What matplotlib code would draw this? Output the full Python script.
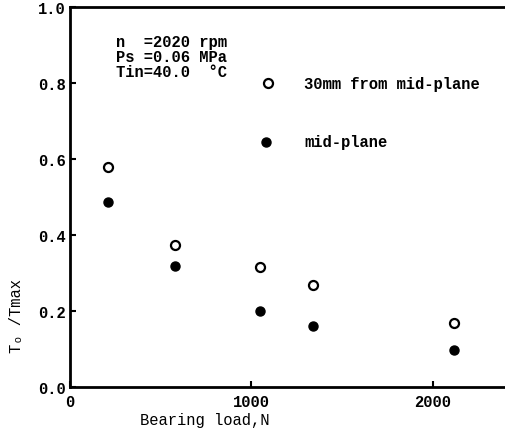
import matplotlib
matplotlib.use("Agg")
import matplotlib.pyplot as plt

# bearing load (N) and temperature ratio
load = [210, 580, 1050, 1340, 2120]
ratio_30mm = [0.579, 0.374, 0.316, 0.268, 0.168]
ratio_mid = [0.487, 0.318, 0.200, 0.161, 0.097]

xticks = [0, 1000, 2000]
yticks = [0.0, 0.2, 0.4, 0.6, 0.8, 1.0]
conditions = ["n  =2020 rpm", "Ps =0.06 MPa", "Tin=40.0  \u00b0C"]
legend_labels = ["30mm from mid-plane", "mid-plane"]

plt.rcParams['font.family'] = ['Liberation Mono', 'DejaVu Sans Mono']
plt.rcParams['font.weight'] = 'bold'
fs = 11.2

fig = plt.figure(figsize=(5.05, 4.31), dpi=100)
ax = fig.add_axes([70 / 505, 43 / 431, 435 / 505, 380 / 431])

ax.plot(load, ratio_30mm, 'o', ms=6.5, mfc='white', mec='black', mew=1.6, clip_on=False)
ax.plot(load, ratio_mid, 'o', ms=6.5, mfc='black', mec='black', mew=1.0, clip_on=False)

ax.set_xlim(0, 2400)
ax.set_ylim(0, 1.0)
ax.set_xticks(xticks)
ax.set_yticks(yticks)
ax.set_xticklabels([str(t) for t in xticks], fontsize=fs)
ax.set_yticklabels([f"{t:.1f}" for t in yticks], fontsize=fs)
ax.tick_params(direction='in', length=4, width=1.5, pad=3)
ax.tick_params(axis='x', pad=5)

for side in ['left', 'top', 'bottom']:
    ax.spines[side].set_linewidth(2)
ax.spines['right'].set_visible(False)

ax.set_xlabel("Bearing load,N", fontsize=fs)
ax.xaxis.set_label_coords(0.31, -0.065)
ax.set_ylabel("T\u2092 /Tmax", fontsize=fs)
ax.yaxis.set_label_coords(-0.105, 0.19)

# operating conditions block
for i, line in enumerate(conditions):
    ax.text(0.105, 0.91 - i * 0.04, line, transform=ax.transAxes,
            fontsize=fs, va='center', ha='left')

# hand-drawn legend inside the axes
leg_y = [0.8, 0.645]
ax.plot([0.455], [leg_y[0]], 'o', ms=6.5, mfc='white', mec='black', mew=1.6,
        transform=ax.transAxes)
ax.plot([0.45], [leg_y[1]], 'o', ms=6.5, mfc='black', mec='black',
        transform=ax.transAxes)
for y, lab in zip(leg_y, legend_labels):
    ax.text(0.538, y, lab, transform=ax.transAxes, fontsize=fs,
            va='center', ha='left')

fig.savefig("out.png", dpi=100)
